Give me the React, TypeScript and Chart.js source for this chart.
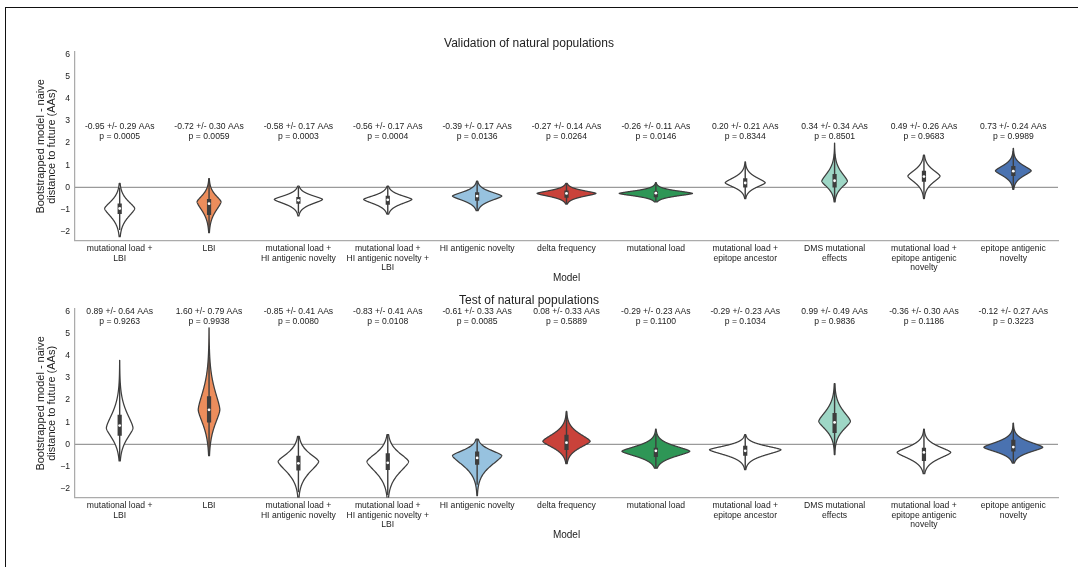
import React, { useEffect, useRef } from 'react';
import { Chart, registerables } from 'chart.js';

Chart.register(...registerables);

// ---------- categories & styling ----------
const categories: string[][] = [
  ['mutational load +', 'LBI'],
  ['LBI'],
  ['mutational load +', 'HI antigenic novelty'],
  ['mutational load +', 'HI antigenic novelty +', 'LBI'],
  ['HI antigenic novelty'],
  ['delta frequency'],
  ['mutational load'],
  ['mutational load +', 'epitope ancestor'],
  ['DMS mutational', 'effects'],
  ['mutational load +', 'epitope antigenic', 'novelty'],
  ['epitope antigenic', 'novelty'],
];
const fillColors = ['#ffffff', '#ec8d5c', '#ffffff', '#ffffff', '#97c2df', '#c9423a', '#2e9656', '#ffffff', '#9ed7c6', '#ffffff', '#4a72b0'];
const yTicks = [-2, -1, 0, 1, 2, 3, 4, 5, 6];
const yMin = -2.4;
const yMax = 6.1;

// ---------- Validation of natural populations ----------
const valMean = [-0.95, -0.72, -0.58, -0.56, -0.39, -0.27, -0.26, 0.2, 0.34, 0.49, 0.73];
const valSd = [0.29, 0.3, 0.17, 0.17, 0.17, 0.14, 0.11, 0.21, 0.34, 0.26, 0.24];
const valP = ['0.0005', '0.0059', '0.0003', '0.0004', '0.0136', '0.0264', '0.0146', '0.8344', '0.8501', '0.9683', '0.9989'];
const valMode = [-0.95, -0.65, -0.54, -0.54, -0.39, -0.27, -0.27, 0.21, 0.28, 0.51, 0.75];
const valSdLow = [0.36, 0.38, 0.19, 0.19, 0.19, 0.13, 0.11, 0.19, 0.26, 0.27, 0.22];
const valSdHigh = [0.31, 0.27, 0.165, 0.165, 0.175, 0.12, 0.11, 0.22, 0.35, 0.26, 0.22];
const valMin = [-2.22, -2.04, -1.28, -1.2, -1.05, -0.75, -0.65, -0.5, -0.65, -0.5, -0.09];
const valMax = [0.18, 0.4, 0.06, 0.06, 0.28, 0.18, 0.22, 1.15, 2.0, 1.45, 1.76];
const valHalfWidth = [0.168, 0.134, 0.27, 0.27, 0.276, 0.33, 0.41, 0.224, 0.143, 0.18, 0.2];
const valQ1 = [-1.2, -1.24, -0.73, -0.78, -0.6, -0.46, -0.44, 0.0, 0.0, 0.26, 0.51];
const valMedian = [-0.95, -0.73, -0.58, -0.56, -0.39, -0.27, -0.26, 0.2, 0.3, 0.49, 0.73];
const valQ3 = [-0.72, -0.52, -0.43, -0.37, -0.22, -0.14, -0.17, 0.41, 0.6, 0.75, 0.96];
const valLabelLevel = 2.52;

// ---------- Test of natural populations ----------
const testMean = [0.89, 1.6, -0.85, -0.83, -0.61, 0.08, -0.29, -0.29, 0.99, -0.36, -0.12];
const testSd = [0.64, 0.79, 0.41, 0.41, 0.33, 0.33, 0.23, 0.23, 0.49, 0.3, 0.27];
const testP = ['0.9263', '0.9938', '0.0080', '0.0108', '0.0085', '0.5889', '0.1100', '0.1034', '0.9836', '0.1186', '0.3223'];
const testMode = [0.74, 1.56, -0.77, -0.77, -0.5, 0.14, -0.31, -0.24, 1.04, -0.36, -0.13];
const testSdLow = [0.44, 0.6, 0.44, 0.46, 0.42, 0.27, 0.22, 0.22, 0.35, 0.26, 0.2];
const testSdHigh = [0.6, 0.77, 0.33, 0.35, 0.22, 0.31, 0.22, 0.165, 0.42, 0.24, 0.22];
const testMin = [-0.74, -0.51, -2.42, -2.42, -2.31, -0.87, -1.07, -1.14, -0.46, -1.32, -0.84];
const testMax = [3.79, 5.25, 0.36, 0.44, 0.24, 1.49, 0.69, 0.44, 2.74, 0.69, 0.96];
const testHalfWidth = [0.149, 0.121, 0.227, 0.233, 0.276, 0.265, 0.38, 0.4, 0.177, 0.3, 0.33];
const testQ1 = [0.39, 0.99, -1.17, -1.15, -0.92, -0.25, -0.57, -0.51, 0.51, -0.75, -0.32];
const testMedian = [0.85, 1.56, -0.85, -0.83, -0.61, 0.08, -0.29, -0.29, 0.99, -0.36, -0.12];
const testQ3 = [1.34, 2.17, -0.51, -0.4, -0.32, 0.43, -0.15, -0.06, 1.42, -0.15, 0.21];
const testLabelLevel = 5.76;

const FONT = '"Liberation Sans", Arial, Helvetica, sans-serif';
const TEXT = '#222222';
const EDGE = '#3d3d3d';
const SHAPE_EXP = 1.5; // kernel-like outline sharpness

type Panel = {
  title: string;
  mean: number[]; sd: number[]; p: string[];
  mode: number[]; sdLow: number[]; sdHigh: number[];
  min: number[]; max: number[]; halfWidth: number[];
  q1: number[]; median: number[]; q3: number[];
  labelLevel: number;
};

const panels: Panel[] = [
  {
    title: 'Validation of natural populations',
    mean: valMean, sd: valSd, p: valP, mode: valMode, sdLow: valSdLow, sdHigh: valSdHigh,
    min: valMin, max: valMax, halfWidth: valHalfWidth, q1: valQ1, median: valMedian, q3: valQ3,
    labelLevel: valLabelLevel,
  },
  {
    title: 'Test of natural populations',
    mean: testMean, sd: testSd, p: testP, mode: testMode, sdLow: testSdLow, sdHigh: testSdHigh,
    min: testMin, max: testMax, halfWidth: testHalfWidth, q1: testQ1, median: testMedian, q3: testQ3,
    labelLevel: testLabelLevel,
  },
];

function violinPlugin(d: Panel) {
  return {
    id: 'violins',
    beforeDatasetsDraw(chart: any) {
      const { ctx, chartArea, scales } = chart;
      const y0 = scales.y.getPixelForValue(0);
      ctx.save();
      ctx.strokeStyle = '#9a9a9a';
      ctx.lineWidth = 1.2;
      ctx.beginPath();
      ctx.moveTo(chartArea.left, y0);
      ctx.lineTo(chartArea.right, y0);
      ctx.stroke();
      ctx.restore();
    },
    afterDatasetsDraw(chart: any) {
      const { ctx, chartArea, scales } = chart;
      const xs = scales.x;
      const ys = scales.y;
      const step = Math.abs(xs.getPixelForValue(1) - xs.getPixelForValue(0));
      ctx.save();
      ctx.beginPath();
      ctx.rect(chartArea.left, chartArea.top, chartArea.right - chartArea.left, chartArea.bottom - chartArea.top);
      ctx.clip();
      for (let i = 0; i < categories.length; i++) {
        const cx = xs.getPixelForValue(i);
        const hw = d.halfWidth[i] * step;
        const N = 240;
        const pts: [number, number][] = [];
        for (let k = 0; k <= N; k++) {
          const v = d.min[i] + ((d.max[i] - d.min[i]) * k) / N;
          const s = v > d.mode[i] ? d.sdHigh[i] : d.sdLow[i];
          const z = Math.abs(v - d.mode[i]) / s;
          const w = hw * Math.exp(-0.5 * Math.pow(z, SHAPE_EXP));
          pts.push([ys.getPixelForValue(v), w]);
        }
        ctx.beginPath();
        pts.forEach(([py, w], k) => (k ? ctx.lineTo(cx + w, py) : ctx.moveTo(cx + w, py)));
        for (let k = pts.length - 1; k >= 0; k--) ctx.lineTo(cx - pts[k][1], pts[k][0]);
        ctx.closePath();
        ctx.fillStyle = fillColors[i];
        ctx.fill();
        ctx.lineJoin = 'round';
        ctx.strokeStyle = EDGE;
        ctx.lineWidth = 1.25;
        ctx.stroke();

        // inner box
        const iqr = d.q3[i] - d.q1[i];
        const wLo = Math.max(d.min[i], d.q1[i] - 1.5 * iqr);
        const wHi = Math.min(d.max[i], d.q3[i] + 1.5 * iqr);
        ctx.lineCap = 'butt';
        ctx.strokeStyle = EDGE;
        ctx.lineWidth = 1.4;
        ctx.beginPath();
        ctx.moveTo(cx, ys.getPixelForValue(wLo));
        ctx.lineTo(cx, ys.getPixelForValue(wHi));
        ctx.stroke();
        ctx.lineWidth = 4.2;
        ctx.beginPath();
        ctx.moveTo(cx, ys.getPixelForValue(d.q1[i]));
        ctx.lineTo(cx, ys.getPixelForValue(d.q3[i]));
        ctx.stroke();
        ctx.fillStyle = '#ffffff';
        ctx.beginPath();
        ctx.arc(cx, ys.getPixelForValue(d.median[i]), 1.4, 0, Math.PI * 2);
        ctx.fill();
      }
      ctx.restore();
    },
    afterDraw(chart: any) {
      const { ctx, scales } = chart;
      const xs = scales.x;
      const yc = scales.y.getPixelForValue(d.labelLevel);
      ctx.save();
      ctx.font = `8.6px ${FONT}`;
      ctx.fillStyle = TEXT;
      ctx.textAlign = 'center';
      ctx.textBaseline = 'middle';
      for (let i = 0; i < categories.length; i++) {
        const cx = xs.getPixelForValue(i);
        ctx.fillText(`${d.mean[i].toFixed(2)} +/- ${d.sd[i].toFixed(2)} AAs`, cx, yc - 4.65);
        ctx.fillText(`p = ${d.p[i]}`, cx, yc + 4.65);
      }
      ctx.restore();
    },
  };
}

function makeConfig(d: Panel): any {
  return {
    type: 'bar',
    data: {
      labels: categories,
      datasets: [
        {
          data: d.min.map((m, i) => [m, d.max[i]]),
          backgroundColor: 'rgba(0,0,0,0)',
          borderWidth: 0,
        },
      ],
    },
    options: {
      animation: false,
      responsive: false,
      events: [],
      layout: { padding: { left: 0, right: 20, top: 0, bottom: 0 } },
      plugins: {
        legend: { display: false },
        tooltip: { enabled: false },
        title: {
          display: true,
          text: d.title,
          color: TEXT,
          font: { family: FONT, size: 12, weight: 'normal', lineHeight: 1.2 },
          padding: { top: 36.8, bottom: 0.8 },
        },
      },
      scales: {
        x: {
          type: 'category',
          offset: true,
          grid: { display: false, drawTicks: false },
          border: { display: true, color: '#ababab', width: 1.25 },
          ticks: {
            color: TEXT,
            padding: 3.65,
            maxRotation: 0,
            autoSkip: false,
            font: { family: FONT, size: 8.6, lineHeight: 1.08 },
          },
          title: {
            display: true,
            text: 'Model',
            color: TEXT,
            padding: { top: 0, bottom: 0 },
            font: { family: FONT, size: 10, lineHeight: 1.2 },
          },
          afterFit(scale: any) {
            scale.height = 43.3;
          },
        },
        y: {
          type: 'linear',
          min: yMin,
          max: yMax,
          grid: { display: false, drawTicks: false },
          border: { display: true, color: '#ababab', width: 1.25 },
          afterBuildTicks(scale: any) {
            scale.ticks = yTicks.map((v) => ({ value: v }));
          },
          ticks: {
            color: TEXT,
            padding: 5,
            font: { family: FONT, size: 8.6 },
            callback: (v: number) => (v < 0 ? '\u2212' + Math.abs(v) : String(v)),
          },
          title: {
            display: true,
            text: ['Bootstrapped model - naive', 'distance to future (AAs)'],
            color: TEXT,
            padding: { top: 35.3, bottom: 0 },
            font: { family: FONT, size: 11, lineHeight: 1.03 },
          },
          afterFit(scale: any) {
            scale.width = 75;
          },
        },
      },
    },
    plugins: [violinPlugin(d)],
  };
}

function ViolinPanel({ panel, top }: { panel: Panel; top: number }) {
  const ref = useRef<HTMLCanvasElement | null>(null);
  useEffect(() => {
    if (!ref.current) return;
    const chart = new Chart(ref.current, makeConfig(panel));
    return () => chart.destroy();
  }, [panel]);
  return (
    <canvas
      ref={ref}
      width={1078}
      height={284}
      style={{ position: 'absolute', left: 0, top, width: 1078, height: 284 }}
    />
  );
}

export default function App() {
  return (
    <div style={{ position: 'absolute', left: 0, top: 0, width: 1078, height: 567, background: '#fff', overflow: 'hidden' }}>
      <div
        style={{
          position: 'absolute',
          left: 5,
          top: 7,
          right: 0,
          bottom: -2,
          borderTop: '1px solid #111',
          borderLeft: '1px solid #111',
        }}
      />
      <ViolinPanel panel={panels[0]} top={0} />
      <ViolinPanel panel={panels[1]} top={257} />
    </div>
  );
}
